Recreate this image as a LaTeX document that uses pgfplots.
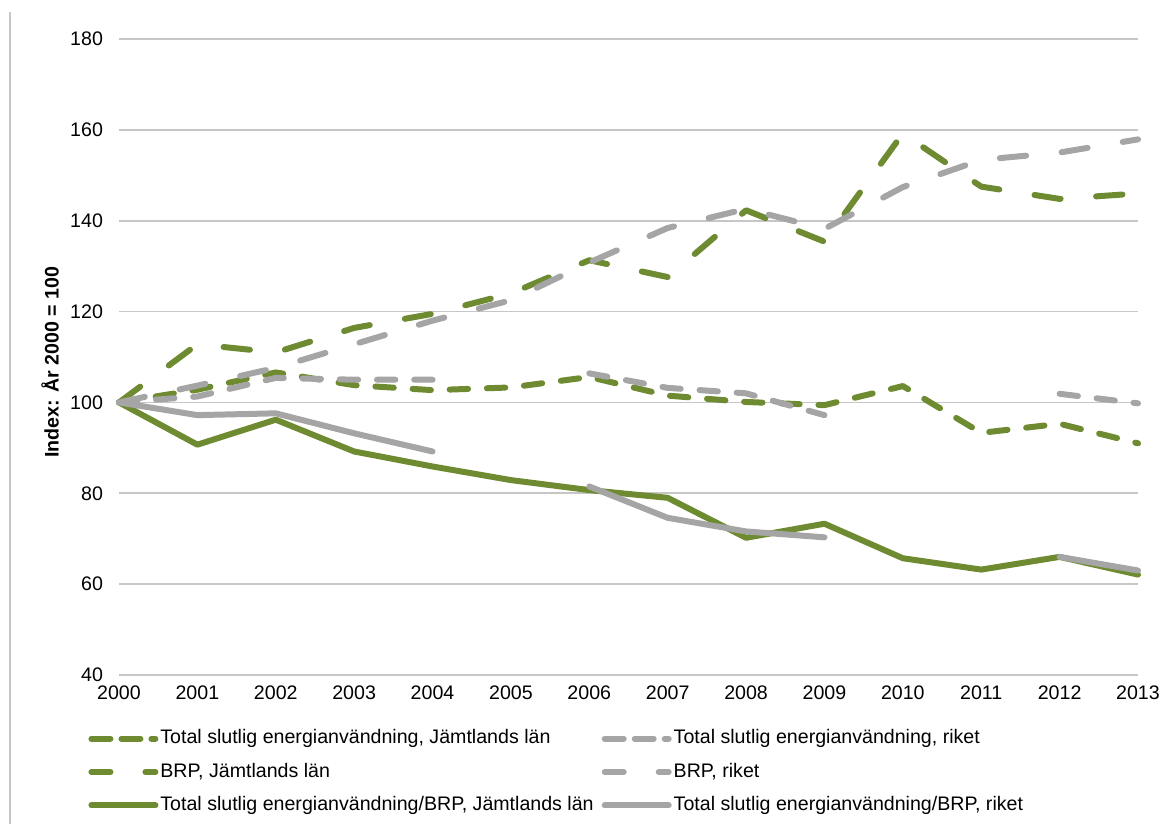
\documentclass[border=0pt]{standalone}
\usepackage{fontspec}
\setmainfont{Liberation Sans}
\usepackage{pgfplots}
\pgfplotsset{compat=1.18}

\definecolor{olive}{HTML}{6E8B31}
\definecolor{lgray}{HTML}{A5A5A5}
\definecolor{gridc}{HTML}{C6C6C6}

\newcommand{\fs}{\fontsize{9.8pt}{11pt}\selectfont}

\begin{document}
\begin{tikzpicture}
\useasboundingbox (-59.5pt,-74.5pt) rectangle (527.5pt,337.5pt);
% thin frame line on the left
\draw[gridc, line width=1pt] (-54.5pt,-74.5pt) -- (-54.5pt,331.5pt);
\begin{axis}[
    at={(0pt,0pt)}, anchor=south west,
    scale only axis,
    width=509.5pt, height=318pt,
    xmin=2000, xmax=2013,
    ymin=40, ymax=180,
    xtick={2000,2001,...,2013},
    ytick={40,60,...,180},
    /pgf/number format/1000 sep={},
    /pgf/number format/assume math mode=true,
    ymajorgrids=true,
    grid style={gridc, line width=0.9pt},
    axis line style={draw=none},
    tick style={draw=none},
    ticklabel style={font=\fs},
    yticklabel style={xshift=-4.5pt},
    xticklabel style={yshift=-2pt},
    ylabel={Index: År 2000 = 100},
    every axis y label/.style={at={(axis description cs:-0.0677,0.492)}, rotate=90, anchor=center, font=\fs\bfseries},
    clip=false,
    unbounded coords=jump,
    every axis plot/.append style={line width=3pt, line cap=round, line join=round, no markers},
    legend columns=2,
    legend cell align=left,
    legend image code/.code={\draw[#1] (1.5pt,0pt) -- (33.5pt,0pt);},
    legend style={at={(axis description cs:-0.0304,-0.082)}, anchor=north west,
        draw=none, fill=none, inner sep=0pt, font=\fs,
        nodes={inner sep=1pt, text height=7.1pt, text depth=2pt},
        row sep=5.6pt,
        /tikz/every even column/.append style={column sep=3pt}},
]
% Total slutlig energianvandning, Jamtlands lan
\addplot[olive, dash pattern=on 9.2pt off 9.4pt, forget plot] coordinates {
(2000,100) (2001,102.8) (2002,106.6) (2003,103.8) (2004,102.7) (2005,103.3)
(2006,105.6) (2007,101.5) (2008,100.1) (2009,99.4) (2010,103.6) (2011,93.3)
(2012,95.3) (2013,91.0)};
\addlegendimage{olive, dash pattern=on 9.5pt off 5.5pt}
\addlegendentry{Total slutlig energianvändning, Jämtlands län}
% Total slutlig energianvandning, riket
\addplot[lgray, dash pattern=on 9.2pt off 9.4pt, forget plot] coordinates {
(2000,100) (2001,101.3) (2002,105.4) (2003,105.0) (2004,105.0) (2005,nan)
(2006,106.4) (2007,103.2) (2008,102.0) (2009,97.2) (2010,nan) (2011,nan)
(2012,101.9) (2013,99.8)};
\addlegendimage{lgray, dash pattern=on 9.5pt off 5.5pt}
\addlegendentry{Total slutlig energianvändning, riket}
% BRP, Jamtlands lan
\addplot[olive, dash pattern=on 13.2pt off 17.8pt, forget plot] coordinates {
(2000,100) (2001,112.8) (2002,111.0) (2003,116.4) (2004,119.5) (2005,124.0)
(2006,131.3) (2007,127.6) (2008,142.3) (2009,135.4) (2010,159.2) (2011,147.5)
(2012,144.8) (2013,146.0)};
\addlegendimage{olive, dash pattern=on 9.5pt off 17.5pt}
\addlegendentry{BRP, Jämtlands län}
% BRP, riket
\addplot[lgray, dash pattern=on 13.2pt off 17.8pt, forget plot] coordinates {
(2000,100) (2001,103.7) (2002,107.6) (2003,112.8) (2004,118.0) (2005,122.5)
(2006,130.8) (2007,138.4) (2008,142.6) (2009,138.2) (2010,147.4) (2011,153.4)
(2012,155.0) (2013,157.9)};
\addlegendimage{lgray, dash pattern=on 9.5pt off 17.5pt}
\addlegendentry{BRP, riket}
% Total slutlig energianvandning/BRP, Jamtlands lan
\addplot[olive, forget plot] coordinates {
(2000,100) (2001,90.7) (2002,96.2) (2003,89.2) (2004,85.9) (2005,82.9)
(2006,80.7) (2007,79.0) (2008,70.2) (2009,73.3) (2010,65.7) (2011,63.2)
(2012,66.0) (2013,62.1)};
\addlegendimage{olive}
\addlegendentry{Total slutlig energianvändning/BRP, Jämtlands län}
% Total slutlig energianvandning/BRP, riket
\addplot[lgray, forget plot] coordinates {
(2000,100) (2001,97.2) (2002,97.6) (2003,93.2) (2004,89.2) (2005,nan)
(2006,81.5) (2007,74.6) (2008,71.6) (2009,70.3) (2010,nan) (2011,nan)
(2012,66.0) (2013,63.0)};
\addlegendimage{lgray}
\addlegendentry{Total slutlig energianvändning/BRP, riket}
\end{axis}
\end{tikzpicture}
\end{document}
